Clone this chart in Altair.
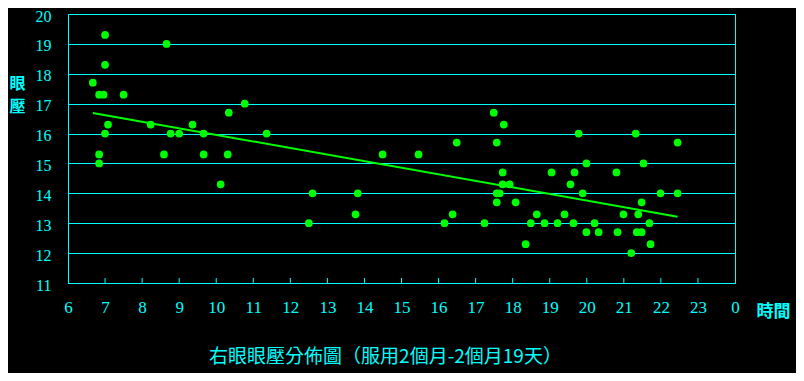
import altair as alt
import pandas as pd

hours = [6.67, 6.84, 6.96, 7.0, 7.0, 7.08, 7.0, 6.84, 6.84, 7.5,
         8.66, 8.23, 8.77, 9.0, 9.36, 9.66, 8.59, 9.66, 10.31, 10.34,
         10.77, 10.12, 11.36, 12.6, 12.5, 14.49, 15.46, 13.82, 13.76, 16.49,
         17.49, 17.76, 17.57, 17.73, 17.73, 17.92, 17.57, 17.65, 17.57, 18.08,
         16.38, 16.16, 17.24, 18.35, 18.49, 18.65, 19.78, 21.32, 22.45, 19.99,
         21.53, 19.05, 19.67, 20.80, 19.56, 19.89, 21.99, 22.45, 21.48, 19.4,
         20.99, 21.39, 18.86, 19.21, 19.64, 20.21, 21.69, 19.99, 20.32, 20.83,
         21.35, 21.48, 21.72, 21.2]
iop = [17.7, 17.3, 17.3, 19.3, 18.3, 16.3, 16.0, 15.3, 15.0, 17.3,
       19.0, 16.3, 16.0, 16.0, 16.3, 16.0, 15.3, 15.3, 15.3, 16.7,
       17.0, 14.3, 16.0, 14.0, 13.0, 15.3, 15.3, 14.0, 13.3, 15.7,
       16.7, 16.3, 15.7, 14.7, 14.3, 14.3, 14.0, 14.0, 13.7, 13.7,
       13.3, 13.0, 13.0, 12.3, 13.0, 13.3, 16.0, 16.0, 15.7, 15.0,
       15.0, 14.7, 14.7, 14.7, 14.3, 14.0, 14.0, 14.0, 13.7, 13.3,
       13.3, 13.3, 13.0, 13.0, 13.0, 13.0, 13.0, 12.7, 12.7, 12.7,
       12.7, 12.7, 12.3, 12.0]
x_ticks = list(range(6, 25))
y_ticks = list(range(11, 21))
inner_ticks = list(range(7, 24))
title_text = "右眼眼壓分佈圖（服用2個月-2個月19天）"

CYAN = "#00FFFF"
GREEN = "#00FF00"
W, H = 667, 269

df = pd.DataFrame({"hour": hours, "iop": iop})
tick_df = pd.DataFrame({"t": inner_ticks})

xscale = alt.Scale(domain=[6, 24], nice=False, zero=False)
yscale = alt.Scale(domain=[11, 20], nice=False, zero=False)

x_axis = alt.Axis(
    values=x_ticks, grid=False, ticks=False, labelPadding=16, labelOverlap=False,
    labelFlush=False,
    labelExpr="datum.value == 24 ? '0' : datum.label",
    title="時間", titleAngle=0, titleX=705, titleY=28, titleBaseline="middle",
    titleAlign="center", titleFontWeight="bold", titleFontSize=17,
    titleFont="Noto Sans CJK TC", titleColor=CYAN)
y_axis = alt.Axis(
    values=y_ticks, grid=True, ticks=False, labelPadding=17, labelOverlap=False,
    labelFlush=False, labelOffset=2, labelFontSize=16,
    title=["眼", "壓"], titleAngle=0, titleX=-51, titleY=61, titleBaseline="top",
    titleAlign="center", titleLineHeight=23, titleFontWeight="bold", titleFontSize=16,
    titleFont="Noto Sans CJK TC", titleColor=CYAN)

base = alt.Chart(df)

points = base.mark_point(filled=True, shape="circle", size=60, color=GREEN, opacity=1).encode(
    x=alt.X("hour:Q", scale=xscale, axis=x_axis),
    y=alt.Y("iop:Q", scale=yscale, axis=y_axis),
)

trend = base.transform_regression("hour", "iop").mark_line(color=GREEN, strokeWidth=2).encode(
    x=alt.X("hour:Q", scale=xscale, axis=x_axis),
    y=alt.Y("iop:Q", scale=yscale, axis=y_axis),
)

ticks = alt.Chart(tick_df).mark_rule(color=CYAN, strokeWidth=1).encode(
    x=alt.X("t:Q", scale=xscale, axis=x_axis),
    y=alt.value(H - 5),
    y2=alt.value(H),
)

chart = alt.layer(points, trend, ticks).properties(
    width=W, height=H,
    autosize=alt.AutoSizeParams(type="none"),
    padding={"left": 60, "top": 6, "right": 61, "bottom": 90},
    background="black",
    title=alt.TitleParams(title_text, orient="bottom", anchor="middle", dx=-16, offset=29,
                          font="Noto Sans CJK TC", fontSize=19, fontWeight="normal", color=CYAN),
).configure_view(
    stroke=CYAN, strokeWidth=1
).configure_axis(
    domainColor=CYAN, domainWidth=1, gridColor=CYAN, gridWidth=1, gridOpacity=1,
    labelColor=CYAN, labelFont="Liberation Serif", labelFontSize=17,
)

chart.save("out.html", embed_options={"renderer": "svg", "actions": False})
